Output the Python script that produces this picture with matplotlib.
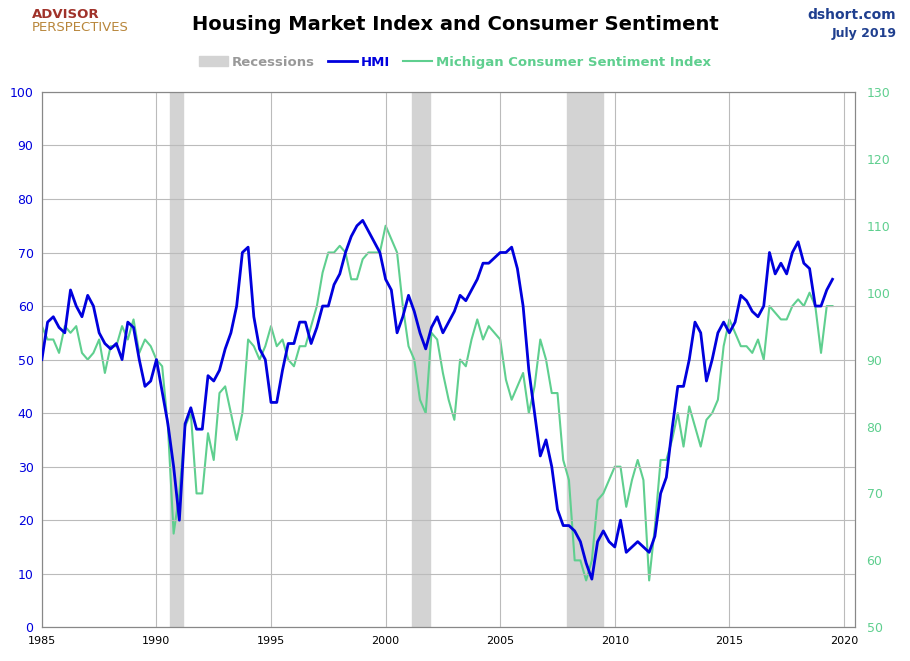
import numpy as np
import matplotlib.pyplot as plt
from matplotlib.patches import Patch
from matplotlib.lines import Line2D

# -------------------------
# DATA (quarterly readings)
# -------------------------
hmi = [50, 57, 58, 56, 55, 63, 60, 58, 62, 60, 55, 53, 52, 53, 50, 57,
       56, 50, 45, 46, 50, 44, 38, 30, 20, 38, 41, 37, 37, 47, 46, 48,
       52, 55, 60, 70, 71, 58, 52, 50, 42, 42, 48, 53, 53, 57, 57, 53,
       56, 60, 60, 64, 66, 70, 73, 75, 76, 74, 72, 70, 65, 63, 55, 58,
       62, 59, 55, 52, 56, 58, 55, 57, 59, 62, 61, 63, 65, 68, 68, 69,
       70, 70, 71, 67, 60, 48, 40, 32, 35, 30, 22, 19, 19, 18, 16, 12,
       9, 16, 18, 16, 15, 20, 14, 15, 16, 15, 14, 17, 25, 28, 37, 45,
       45, 50, 57, 55, 46, 50, 55, 57, 55, 57, 62, 61, 59, 58, 60, 70,
       66, 68, 66, 70, 72, 68, 67, 60, 60, 63, 65]
sentiment = [95, 93, 93, 91, 95, 94, 95, 91, 90, 91, 93, 88, 92, 92, 95, 93,
             96, 91, 93, 92, 90, 89, 80, 64, 70, 80, 82, 70, 70, 79, 75, 85,
             86, 82, 78, 82, 93, 92, 90, 92, 95, 92, 93, 90, 89, 92, 92, 95,
             98, 103, 106, 106, 107, 106, 102, 102, 105, 106, 106, 106,
             110, 108, 106, 98, 92, 90, 84, 82, 94, 93, 88, 84, 81, 90, 89, 93,
             96, 93, 95, 94, 93, 87, 84, 86, 88, 82, 86, 93, 90, 85, 85, 75,
             72, 60, 60, 57, 60, 69, 70, 72, 74, 74, 68, 72, 75, 72, 57, 65,
             75, 75, 78, 82, 77, 83, 80, 77, 81, 82, 84, 92, 96, 94, 92, 92,
             91, 93, 90, 98, 97, 96, 96, 98, 99, 98, 100, 98, 91, 98, 98]
dates = 1985 + np.arange(len(hmi)) * 0.25
recessions = [(1990.58, 1991.17), (2001.17, 2001.92), (2007.92, 2009.5)]

blue = "#0000dd"
green = "#5fcf8f"

fig = plt.figure(figsize=(9.1, 6.61), dpi=100)
ax = fig.add_axes([0.046, 0.051, 0.894, 0.810])
ax2 = ax.twinx()
ax2.set_zorder(0)
ax.set_zorder(1)
ax.patch.set_visible(False)

ax.set_xlim(1985, 2020.5)
ax.set_ylim(0, 100)
ax2.set_ylim(50, 130)

for a, b in recessions:
    ax2.axvspan(a, b, color="#d3d3d3", zorder=0)

ax2.plot(dates, sentiment, color=green, lw=1.5, zorder=2)
ax.plot(dates, hmi, color=blue, lw=2, zorder=3)

ax.set_xticks(range(1985, 2021, 5))
ax.set_yticks(range(0, 101, 10))
ax2.set_yticks(range(50, 131, 10))
ax2.grid(False)
ax.grid(True, color="#bbbbbb", lw=0.8, zorder=1)
ax.set_axisbelow(True)
ax.tick_params(axis="y", colors=blue, labelsize=9, length=0, pad=6)
ax.tick_params(axis="x", labelsize=8, length=0, pad=6)
ax2.tick_params(axis="y", colors=green, labelsize=9, length=0, pad=8)
for s in list(ax.spines.values()) + list(ax2.spines.values()):
    s.set_color("#888888")

fig.text(0.5, 0.963, "Housing Market Index and Consumer Sentiment",
         ha="center", va="center", fontsize=14, fontweight="bold")
fig.text(0.985, 0.978, "dshort.com", ha="right", va="center",
         fontsize=10, fontweight="bold", color="#1f3f8f")
fig.text(0.985, 0.950, "July 2019", ha="right", va="center",
         fontsize=9, fontweight="bold", color="#1f3f8f")
fig.text(0.035, 0.978, "ADVISOR", ha="left", va="center",
         fontsize=9.5, fontweight="bold", color="#a0322a")
fig.text(0.035, 0.958, "PERSPECTIVES", ha="left", va="center",
         fontsize=9.5, color="#b8863b")

handles = [Patch(color="#d3d3d3"),
           Line2D([], [], color=blue, lw=2),
           Line2D([], [], color=green, lw=1.5)]
leg = fig.legend(handles, ["Recessions", "HMI", "Michigan Consumer Sentiment Index"],
                 loc="center", bbox_to_anchor=(0.5, 0.906), ncol=3, frameon=False,
                 fontsize=9.5, handlelength=2.2, columnspacing=1.0, handletextpad=0.3)
for t, c in zip(leg.get_texts(), ["#999999", blue, green]):
    t.set_color(c)
    t.set_fontweight("bold")

fig.savefig("out.png", dpi=100)
